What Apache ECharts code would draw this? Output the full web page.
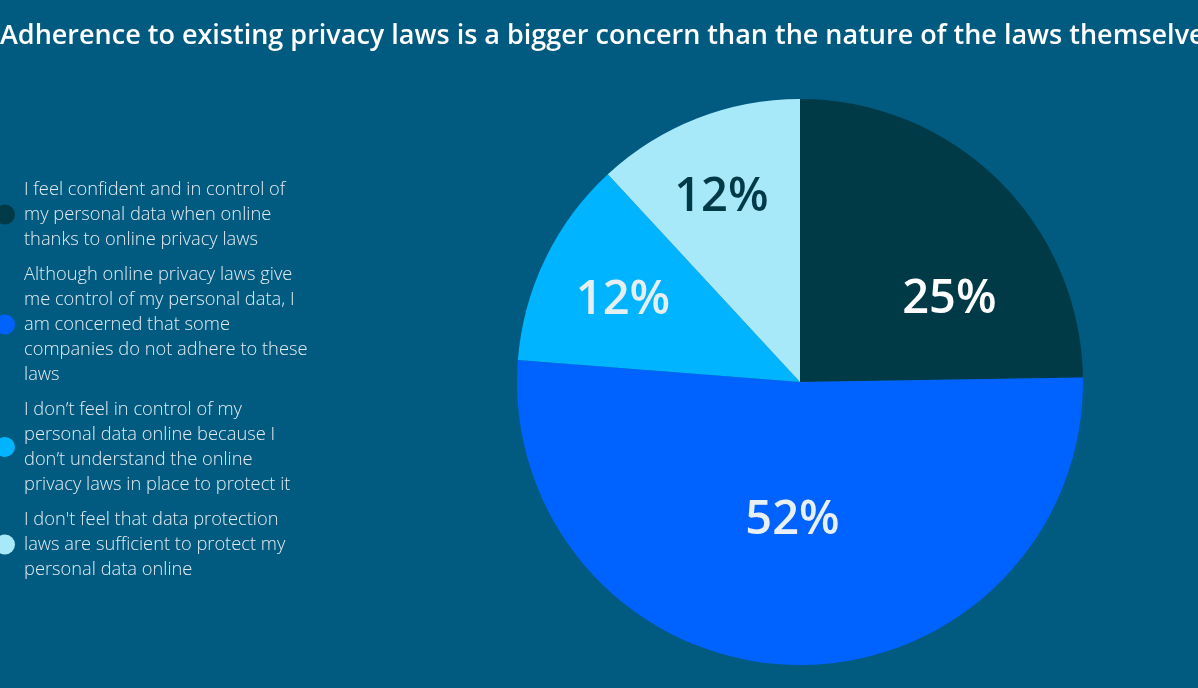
<!DOCTYPE html>
<html>
<head>
<meta charset="utf-8">
<script src="https://cdn.jsdelivr.net/npm/echarts@6/dist/echarts.min.js"></script>
<style>
  html, body { margin: 0; padding: 0; background: #015a80; }
  #chart { width: 1198px; height: 688px; }
</style>
</head>
<body>
<div id="chart"></div>
<script>
// Survey answers on online privacy laws (share of respondents, %)
const categories = [
  "I feel confident and in control of\nmy personal data when online\nthanks to online privacy laws",
  "Although online privacy laws give\nme control of my personal data, I\nam concerned that some\ncompanies do not adhere to these\nlaws",
  "I don\u2019t feel in control of my\npersonal data online because I\ndon\u2019t understand the online\nprivacy laws in place to protect it",
  "I don't feel that data protection\nlaws are sufficient to protect my\npersonal data online"
];
const shares = [25, 52, 12, 12];

// Styling
const sliceColors = ["#003a47", "#0062ff", "#00b4ff", "#a8e9f9"];
const labelColors = ["#ffffff", "#e9f0f4", "#e6eef0", "#003a47"];
const labelNudge = [[48, 21], [-3, -6], [-47, -18], [-26, -50]];

const chart = echarts.init(document.getElementById('chart'));
chart.setOption({
  backgroundColor: '#015a80',
  animation: false,
  title: {
    text: 'Adherence to existing privacy laws is a bigger concern than the nature of the laws themselves',
    left: 0,
    top: 23,
    padding: 0,
    textStyle: {
      color: '#ffffff',
      fontFamily: 'Open Sans',
      fontWeight: 600,
      fontSize: 27
    }
  },
  legend: {
    orient: 'vertical',
    left: -5,
    top: 177,
    padding: 0,
    icon: 'circle',
    itemWidth: 28,
    itemHeight: 20,
    itemGap: 10,
    selectedMode: false,
    textStyle: {
      color: '#e4ecf0',
      fontFamily: 'Open Sans',
      fontWeight: 300,
      fontSize: 18.3,
      lineHeight: 25
    },
    data: categories
  },
  series: [{
    type: 'pie',
    center: [800, 382],
    radius: 283,
    startAngle: 90,
    clockwise: true,
    silent: true,
    label: {
      show: true,
      position: 'inside',
      formatter: '{c}%',
      fontFamily: 'Open Sans',
      fontWeight: 600,
      fontSize: 47
    },
    labelLine: { show: false },
    labelLayout: function (params) {
      const n = labelNudge[params.dataIndex];
      return { dx: n[0], dy: n[1] };
    },
    data: categories.map(function (name, i) {
      return {
        name: name,
        value: shares[i],
        itemStyle: { color: sliceColors[i] },
        label: { color: labelColors[i] }
      };
    })
  }]
});
</script>
</body>
</html>
